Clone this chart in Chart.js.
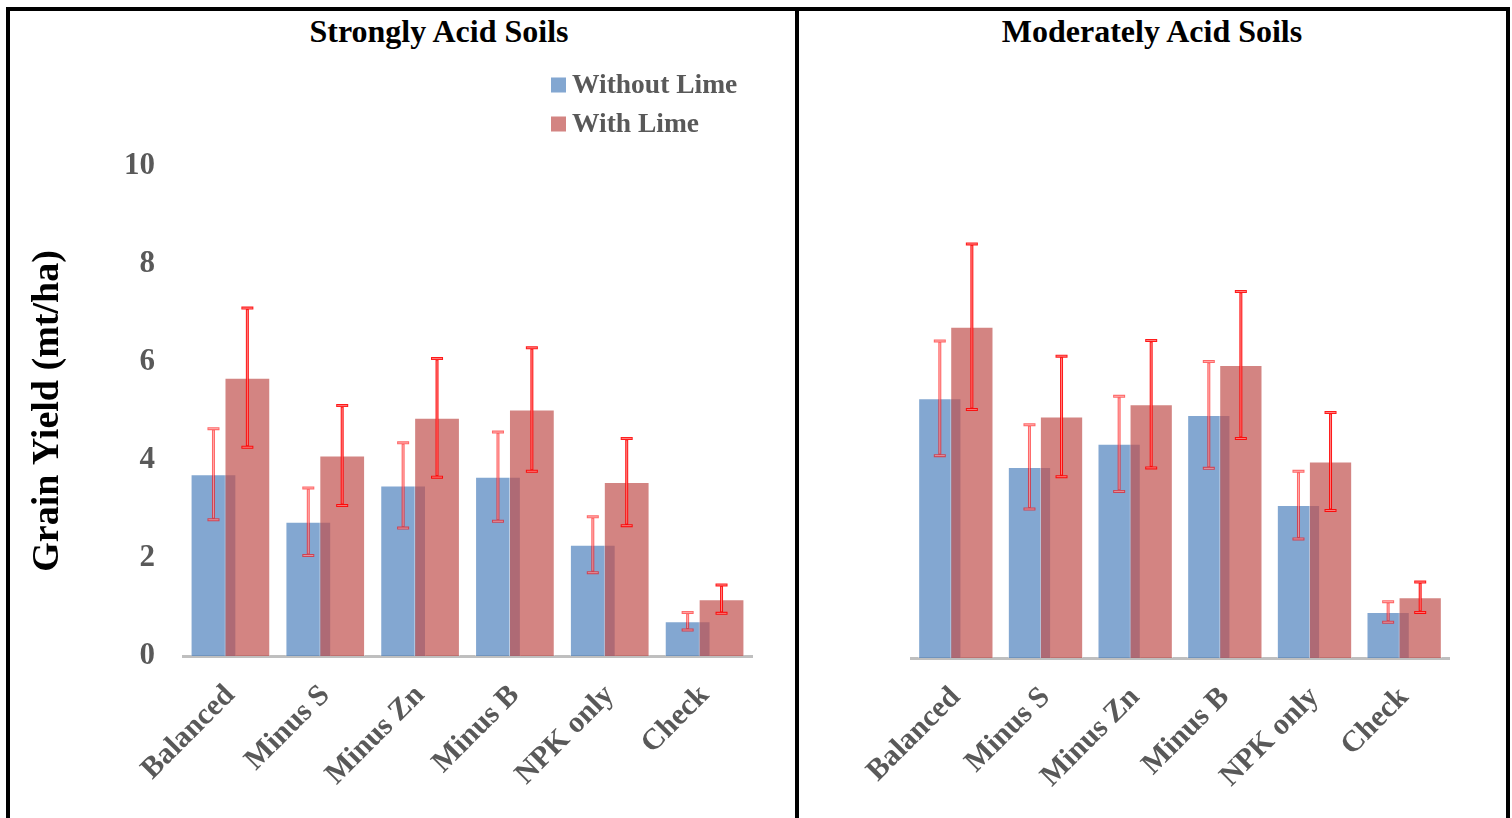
<!DOCTYPE html>
<html>
<head>
<meta charset="utf-8">
<title>Grain Yield</title>
<script src="https://cdn.jsdelivr.net/npm/chart.js@4.4.1/dist/chart.umd.min.js"></script>
<style>
    body { margin: 0; background: #fff; width: 1512px; height: 818px; overflow: hidden; position: relative; }
    #frame { position: absolute; left: 6px; top: 7px; width: 1496px; height: 830px; border: 4px solid #000; border-bottom: none; }
    #divider { position: absolute; left: 785px; top: 0; width: 4px; height: 830px; background: #000; }
    .panel { position: absolute; top: 0; }
    .panel-title { position: absolute; top: 2px; font: bold 32px 'Liberation Serif', serif; color: #000; white-space: nowrap; transform: translateX(-50%); line-height: 36px; }
</style>
</head>
<body>
<div id="frame">
    <div class="panel-title" style="left: 429px;">Strongly Acid Soils</div>
    <div class="panel-title" style="left: 1142px;">Moderately Acid Soils</div>
    <canvas id="strongChart" class="panel" style="left: 0px;" width="785" height="807"></canvas>
    <div id="divider"></div>
    <canvas id="moderateChart" class="panel" style="left: 789px;" width="707" height="807"></canvas>
</div>
<script>
    const categories = ['Balanced', 'Minus S', 'Minus Zn', 'Minus B', 'NPK only', 'Check'];
    const yTicks = [0, 2, 4, 6, 8, 10];

    // Strongly acid soils, grain yield (mt/ha) and error
    const strongWithout = [3.71, 2.74, 3.48, 3.66, 2.27, 0.71];
    const strongWithoutErr = [0.93, 0.69, 0.87, 0.91, 0.57, 0.18];
    const strongWith = [5.68, 4.09, 4.86, 5.03, 3.55, 1.16];
    const strongWithErr = [1.42, 1.02, 1.21, 1.26, 0.89, 0.29];

    // Moderately acid soils
    const moderateWithout = [5.30, 3.90, 4.37, 4.96, 3.12, 0.94];
    const moderateWithoutErr = [1.17, 0.86, 0.97, 1.09, 0.69, 0.21];
    const moderateWith = [6.76, 4.93, 5.18, 5.98, 4.01, 1.24];
    const moderateWithErr = [1.69, 1.23, 1.30, 1.50, 1.00, 0.31];

    const blue = 'rgba(79, 129, 189, 0.7)';
    const red = 'rgba(192, 80, 77, 0.7)';
    const tickGray = '#595959';

    Chart.defaults.font.family = "'Liberation Serif', serif";

    // Chart.js paints the first dataset last; paint it first so the lime bars sit on top
    const limeOnTop = {
        id: 'limeOnTop',
        beforeDatasetsDraw(chart) {
            chart.getDatasetMeta(0).controller.draw();
        },
        beforeDatasetDraw(chart, args) {
            if (args.index === 0) return false;
        }
    };

    // red whiskers drawn on top of each bar
    const errorBars = {
        id: 'errorBars',
        afterDatasetsDraw(chart) {
            const ctx = chart.ctx;
            const y = chart.scales.y;
            chart.data.datasets.forEach((ds, i) => {
                const meta = chart.getDatasetMeta(i);
                const alpha = i === 0 ? 0.6 : 0.9;
                meta.data.forEach((bar, j) => {
                    const v = ds.data[j];
                    const e = ds.errors[j];
                    const top = y.getPixelForValue(v + e);
                    const bot = y.getPixelForValue(v - e);
                    const x = bar.x;
                    ctx.save();
                    ctx.strokeStyle = `rgba(255, 0, 0, ${alpha})`;
                    ctx.lineWidth = 3;
                    ctx.beginPath();
                    ctx.moveTo(x, top);
                    ctx.lineTo(x, bot);
                    ctx.moveTo(x - 6, top);
                    ctx.lineTo(x + 6, top);
                    ctx.moveTo(x - 6, bot);
                    ctx.lineTo(x + 6, bot);
                    ctx.stroke();
                    ctx.strokeStyle = 'rgba(255, 255, 255, 0.45)';
                    ctx.lineWidth = 1;
                    ctx.beginPath();
                    ctx.moveTo(x, top + 2);
                    ctx.lineTo(x, bot - 2);
                    ctx.moveTo(x - 5, top);
                    ctx.lineTo(x + 5, top);
                    ctx.moveTo(x - 5, bot);
                    ctx.lineTo(x + 5, bot);
                    ctx.stroke();
                    ctx.restore();
                });
            });
        }
    };

    // stacked legend in the upper right of the first panel
    const sideLegend = {
        id: 'sideLegend',
        afterDraw(chart, args, opts) {
            if (!opts.show) return;
            const ctx = chart.ctx;
            ctx.save();
            ctx.font = "bold 27.5px 'Liberation Serif', serif";
            ctx.textBaseline = 'middle';
            chart.data.datasets.forEach((ds, i) => {
                const y = opts.y + i * 39;
                ctx.fillStyle = ds.backgroundColor;
                ctx.fillRect(opts.x, y - 7.5, 15, 15);
                ctx.fillStyle = tickGray;
                ctx.fillText(ds.label, opts.x + 21, y + 1);
            });
            ctx.restore();
        }
    };

    function makeDatasets(without, withoutErr, withL, withErr) {
        return [
            { label: 'Without Lime', data: without, errors: withoutErr, backgroundColor: blue, borderColor: 'rgba(255,255,255,0.45)', borderWidth: 1 },
            { label: 'With Lime', data: withL, errors: withErr, backgroundColor: red, borderColor: 'rgba(255,255,255,0.45)', borderWidth: 1 }
        ];
    }

    function buildChart(id, datasets, opts) {
        const ctx = document.getElementById(id).getContext('2d');
        return new Chart(ctx, {
            type: 'bar',
            data: { labels: categories, datasets: datasets },
            options: {
                responsive: false,
                animation: false,
                categoryPercentage: 0.715,
                barPercentage: 1.35,
                layout: { padding: opts.padding },
                plugins: {
                    legend: { display: false },
                    title: { display: false },
                    tooltip: { enabled: false },
                    sideLegend: opts.legend
                },
                scales: {
                    x: {
                        grid: { display: false },
                        border: { color: '#bfbfbf', width: 3 },
                        ticks: {
                            color: tickGray,
                            font: { size: 30, weight: 'bold' },
                            minRotation: 45,
                            maxRotation: 45,
                            padding: 14
                        },
                        afterFit(scale) { scale.height = opts.xHeight; }
                    },
                    y: {
                        display: opts.showY,
                        min: 0,
                        max: 10,
                        afterBuildTicks(scale) { scale.ticks = yTicks.map(v => ({ value: v })); },
                        grid: { display: false, drawTicks: false },
                        border: { display: false },
                        ticks: {
                            color: tickGray,
                            font: { size: 31, weight: 'bold' },
                            padding: 28
                        },
                        title: {
                            display: true,
                            text: 'Grain Yield (mt/ha)',
                            color: '#000',
                            font: { size: 38, weight: 'bold' },
                            padding: { top: 15, bottom: 0 }
                        },
                        afterFit(scale) { if (opts.showY) scale.width = 173; }
                    }
                }
            },
            plugins: [limeOnTop, errorBars, sideLegend]
        });
    }

    buildChart('strongChart', makeDatasets(strongWithout, strongWithoutErr, strongWith, strongWithErr), {
        padding: { top: 155, right: 43, left: 0, bottom: 0 },
        xHeight: 162,
        showY: true,
        legend: { show: true, x: 541, y: 74 }
    });

    buildChart('moderateChart', makeDatasets(moderateWithout, moderateWithoutErr, moderateWith, moderateWithErr), {
        padding: { top: 157, right: 57, left: 112, bottom: 0 },
        xHeight: 160,
        showY: false,
        legend: { show: false }
    });
</script>
</body>
</html>
